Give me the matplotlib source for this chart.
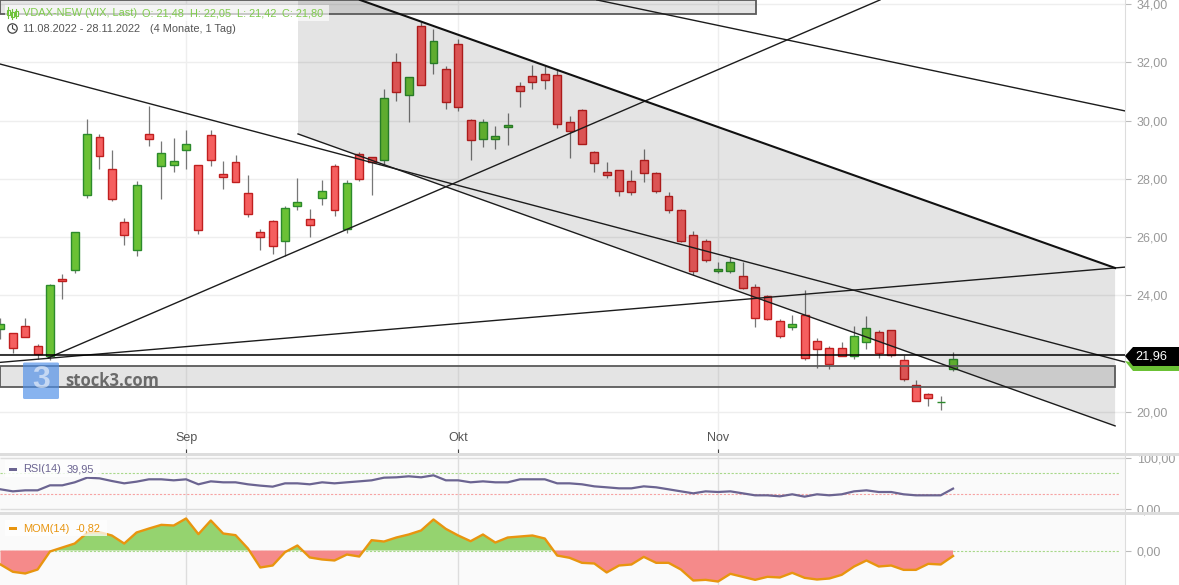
import matplotlib
matplotlib.use('Agg')
import matplotlib.pyplot as plt
from matplotlib.patches import Rectangle, Polygon, Circle, FancyBboxPatch

plt.rcParams['font.family'] = ['Liberation Sans', 'DejaVu Sans']

# candles
opens = [22.84,22.70,22.94,22.25,21.92,24.55,24.86,27.45,29.42,28.33,26.51,25.57,29.53,28.43,28.46,28.98,28.46,29.49,28.16,28.57,
         27.50,26.16,26.54,25.88,27.08,26.61,27.33,28.43,26.27,28.84,28.74,28.64,32.00,30.87,33.23,31.96,31.76,32.62,30.01,29.36,
         29.36,29.77,31.18,31.52,31.59,31.55,29.94,30.35,28.91,28.22,28.29,27.91,28.64,28.19,27.40,26.92,26.06,25.86,24.83,24.83,
         24.65,24.28,23.99,23.11,22.90,23.32,22.42,22.18,22.18,21.91,22.39,22.73,22.80,21.77,20.91,20.60,20.33,21.48]
closes = [23.01,22.18,22.56,22.00,24.35,24.50,26.16,29.53,28.77,27.30,26.06,27.78,29.36,28.88,28.60,29.18,26.23,28.64,28.07,27.88,
          26.80,26.01,25.68,26.99,27.19,26.43,27.57,26.92,27.85,28.00,28.58,30.76,30.97,31.48,31.21,32.72,30.63,30.45,29.32,29.94,
          29.46,29.84,31.00,31.31,31.38,29.87,29.63,29.18,28.53,28.12,27.57,27.54,28.19,27.57,26.92,25.86,24.83,25.20,24.89,25.14,
          24.24,23.21,23.18,22.60,23.01,21.84,22.15,21.63,21.91,22.60,22.87,22.01,21.94,21.12,20.36,20.47,20.34,21.80]
highs = [23.22,22.71,23.22,22.33,24.39,24.73,26.17,30.05,29.54,28.99,26.66,27.93,30.50,29.30,29.40,29.68,28.47,29.68,28.61,28.82,
         28.13,26.28,26.59,27.07,28.03,26.96,27.96,28.51,27.96,28.92,28.75,31.08,32.32,31.49,33.39,33.14,31.87,32.80,30.05,30.05,
         29.81,30.26,31.32,31.91,31.87,31.73,30.16,30.40,28.95,28.58,28.29,28.30,29.02,28.23,27.55,26.96,26.21,25.93,25.15,25.31,
         25.14,24.39,24.01,23.19,23.32,24.18,22.53,22.26,22.40,22.95,23.29,22.81,22.81,21.94,21.10,20.65,20.55,22.05]
lows = [22.51,22.03,22.56,21.82,21.78,23.89,24.78,27.34,28.35,27.25,25.74,25.36,29.14,27.31,28.23,28.35,26.12,28.45,27.66,27.88,
        26.70,25.56,25.43,25.36,26.93,26.01,27.11,26.73,26.15,27.93,27.44,28.47,30.67,29.96,31.21,31.60,30.41,30.33,28.65,29.10,
        29.03,29.17,30.46,31.09,31.09,29.74,28.70,29.18,28.23,28.04,27.42,27.44,27.89,27.52,26.83,25.82,24.70,25.14,24.78,24.77,
        24.22,22.93,23.15,22.54,22.82,21.78,21.52,21.48,21.91,21.81,22.17,21.86,21.90,21.07,20.36,20.20,20.07,21.42]

rsi = [38.6,34.6,36.6,36.6,46.4,46.4,52.3,61.4,60.1,54.9,50.3,53.6,58.2,58.2,56.2,58.2,48.4,54.2,52.3,52.3,
       48.4,45.8,43.8,50.3,50.3,48.4,52.3,50.3,52.3,54.2,56.2,61.4,62.1,64.1,62.1,66.0,56.2,56.2,52.3,54.2,
       52.3,52.3,58.2,58.2,58.2,50.3,50.3,48.4,44.4,42.5,40.5,40.5,44.4,42.5,38.6,34.6,30.7,34.6,33.3,34.6,
       30.7,26.8,26.8,24.8,28.8,24.2,28.8,26.8,28.8,34.6,36.6,33.3,33.3,28.8,26.8,26.8,26.8,39.95]
mom = [-2.09,-3.18,-3.43,-2.84,-0.15,0.45,1.04,2.64,2.74,2.24,1.04,2.69,3.28,3.83,3.73,4.78,2.44,4.48,2.54,2.29,
       0.30,-2.54,-2.24,-0.25,0.75,-1.04,-1.34,-1.49,-0.60,-0.90,1.54,1.34,1.94,2.39,2.99,4.63,3.23,2.24,1.39,2.39,
       1.19,1.94,2.09,2.24,1.79,-0.75,-1.09,-1.84,-1.94,-3.28,-2.24,-2.09,-0.95,-1.84,-1.84,-2.84,-4.48,-4.38,-4.63,-3.48,
       -3.93,-4.38,-3.93,-4.03,-3.33,-4.08,-4.33,-4.18,-3.63,-2.39,-1.49,-2.39,-2.24,-2.89,-2.89,-1.99,-2.09,-0.82]

price_ticks = [20,22,24,26,28,30,32,34]
price_labels = ['20,00','','24,00','26,00','28,00','30,00','32,00','34,00']
month_pos = [15,37,58]
month_names = ['Sep','Okt','Nov']

# drawn tools: ((index, price), (index, price))
trend_lines = [((-0.04,31.94),(90.9,21.71)),
               ((24.05,29.54),(90.1,19.52)),
               ((3.84,21.85),(71.1,34.14)),
               ((-0.04,21.70),(90.9,24.97)),
               ((48.2,34.14),(90.9,30.33))]
channel_top = ((29.06,34.14),(90.1,24.94))
channel = [(24.05,34.14),(29.06,34.14),(90.1,24.94),(90.1,19.52),(24.05,29.54)]
box_top = (-0.04,61.1,33.66,34.12)
box_low = (-0.04,90.1,20.86,21.59)
last_price = 21.96

W,H = 1179,585
fig = plt.figure(figsize=(W/100,H/100),dpi=100)
def px_axes(top,bottom,**kw):
    return fig.add_axes([0,1-bottom/H,1125/W,(bottom-top)/H],**kw)

ax = px_axes(0,453)
ax2 = px_axes(456,512)
ax3 = px_axes(515,585)
xs = list(range(len(closes)))
for a in (ax,ax2,ax3):
    a.set_xlim(-0.04,90.9)
    for s in ('top','left','bottom'):
        a.spines[s].set_visible(False)
    a.spines['right'].set_color('#dddddd')
    a.yaxis.tick_right()
    a.set_xticks(month_pos)
    a.tick_params(axis='y',length=4,color='#bbbbbb',labelcolor='#999999',labelsize=9,pad=4.5,width=0.8)
    a.set_axisbelow(True)

# price panel
ax.set_ylim(18.59,34.137)
ax.set_yticks(price_ticks)
ax.set_yticklabels(price_labels)
ax.grid(color='#eeeeee',lw=1)
ax.set_xticklabels(month_names)
ax.tick_params(axis='x',direction='in',length=3,color='#444444',labelcolor='#555555',labelsize=9,pad=-15)
for i in xs:
    up = closes[i]>=opens[i]
    face = '#6bc135' if up else '#f55f5f'
    edge = '#2c8a2c' if up else '#c01f1f'
    ax.vlines(i,lows[i],highs[i],color='#777777',lw=0.9,zorder=2)
    ax.add_patch(Rectangle((i-0.32,min(opens[i],closes[i])),0.64,abs(closes[i]-opens[i]),
                           facecolor=face,edgecolor=edge,lw=1.0,zorder=3))
ax.add_patch(Polygon(channel,closed=True,facecolor='black',alpha=0.105,edgecolor='none',zorder=4))
ax.add_patch(Rectangle((box_low[0],box_low[2]),box_low[1]-box_low[0],box_low[3]-box_low[2],
                       facecolor=(0,0,0,0.105),edgecolor='#5a5a5a',lw=1.3,zorder=5))
ax.add_patch(Rectangle((box_top[0],box_top[2]),box_top[1]-box_top[0],box_top[3]-box_top[2],
                       facecolor=(0,0,0,0.105),edgecolor='#5a5a5a',lw=1.3,zorder=5))
for p,q in trend_lines:
    ax.plot([p[0],q[0]],[p[1],q[1]],color='#1c1c1c',lw=1.0,zorder=6)
ax.plot([channel_top[0][0],channel_top[1][0]],[channel_top[0][1],channel_top[1][1]],color='#111111',lw=1.5,zorder=6)
ax.hlines(last_price,-0.04,90.9,color='black',lw=1.1,zorder=6)

# RSI panel
ax2.set_facecolor('#fafafa')
ax2.set_ylim(-5.9,103.9)
ax2.set_yticks([0,100])
ax2.set_yticklabels(['0,00','100,00'])
ax2.set_xticklabels([])
ax2.tick_params(axis='x',length=0)
ax2.grid(axis='x',color='#dddddd',lw=1)
ax2.hlines([0,100],-0.04,90.9,color='#dddddd',lw=1,zorder=1)
ax2.hlines(70,-0.04,90.5,color='#a8d88a',lw=0.8,linestyles=(0,(2,1.5)),zorder=2)
ax2.hlines(30,-0.04,90.5,color='#f7a3a3',lw=0.8,linestyles=(0,(2,1.5)),zorder=2)
ax2.plot(xs,rsi,color='#6b6491',lw=1.6,zorder=3)

# MOM panel
ax3.set_facecolor('#fafafa')
ax3.set_ylim(-5.15,5.30)
ax3.set_yticks([0])
ax3.set_yticklabels(['0,00'])
ax3.set_xticklabels([])
ax3.tick_params(axis='x',length=0)
ax3.grid(axis='x',color='#dddddd',lw=1)
ax3.hlines(0,-0.04,90.5,color='#a8d88a',lw=0.8,linestyles=(0,(2,1.5)),zorder=2)
ax3.fill_between(xs,mom,0,where=[m>=0 for m in mom],interpolate=True,color='#95d36f',lw=0,zorder=3)
ax3.fill_between(xs,mom,0,where=[m<=0 for m in mom],interpolate=True,color='#f58a8a',lw=0,zorder=3)
ax3.plot(xs,mom,color='#e8950f',lw=1.7,zorder=4)

# overlay in pixels: separators, legends, logo, price flag
over = fig.add_axes([0,0,1,1],zorder=5)
over.set_xlim(0,W)
over.set_ylim(H,0)
over.axis('off')
over.add_patch(Rectangle((0,453),W,3,color='#dddddd',lw=0))
over.add_patch(Rectangle((0,512),W,3,color='#dddddd',lw=0))

over.add_patch(Rectangle((5,5),324,16,color='white',alpha=0.65,lw=0))
for x0,t,b,lo,hi in [(8,10,15,7,18),(12,12,17,9,19),(16,11,16,9,18)]:
    over.plot([x0,x0],[lo,hi],color='#6fc23a',lw=0.8)
    over.add_patch(Rectangle((x0-1.5,t),3,b-t,facecolor='white',edgecolor='#6fc23a',lw=0.8))
for x0,s in [(23,'VDAX-NEW (VIX, Last)'),(142,'O: 21,48'),(190,'H: 22,05'),(237,'L: 21,42'),(282,'C: 21,80')]:
    over.text(x0,13.5,s,color='#7fcb4d',fontsize=7.9,va='center')
over.add_patch(Circle((12.5,28.5),4.7,facecolor='none',edgecolor='#444444',lw=0.9))
over.plot([12.5,12.5,15],[25.5,28.5,30],color='#444444',lw=0.8)
over.text(23,29,'11.08.2022 - 28.11.2022',color='#555555',fontsize=7.9,va='center')
over.text(150,29,'(4 Monate, 1 Tag)',color='#555555',fontsize=7.9,va='center')

over.add_patch(Rectangle((5,460),95,17,color='white',alpha=0.8,lw=0))
over.add_patch(Rectangle((9,468),8,2.5,color='#6b6491',lw=0))
over.text(23,469.5,'RSI(14)',color='#6b6491',fontsize=7.9,va='center')
over.text(67,469.5,'39,95',color='#6b6491',fontsize=7.9,va='center')
over.add_patch(Rectangle((5,520),102,16,color='white',alpha=0.75,lw=0))
over.add_patch(Rectangle((9,527),8,2.5,color='#e8950f',lw=0))
over.text(23,528.5,'MOM(14)',color='#e8950f',fontsize=7.9,va='center')
over.text(76,528.5,'-0,82',color='#e8950f',fontsize=7.9,va='center')

over.add_patch(FancyBboxPatch((23,362.5),36,36.5,boxstyle='round,pad=0,rounding_size=1.5',facecolor='#4f8fe8',alpha=0.68,edgecolor='none'))
over.text(41,380.5,'3',color='white',alpha=0.55,fontsize=23,fontweight='bold',ha='center',va='center')
over.text(65,381.5,'stock3.com',color='#555555',alpha=0.85,fontsize=12,fontweight='bold',va='center',family='Open Sans')

over.add_patch(Polygon([(1125,361),(1133,371),(1179,371),(1179,362),(1130,362)],color='#6bc135',lw=0))
over.add_patch(Polygon([(1125,356),(1133,347),(1179,347),(1179,366),(1133,366)],color='black',lw=0))
over.text(1151,356.5,'21,96',color='white',fontsize=9.2,ha='center',va='center')

fig.savefig('out.png',dpi=100)
